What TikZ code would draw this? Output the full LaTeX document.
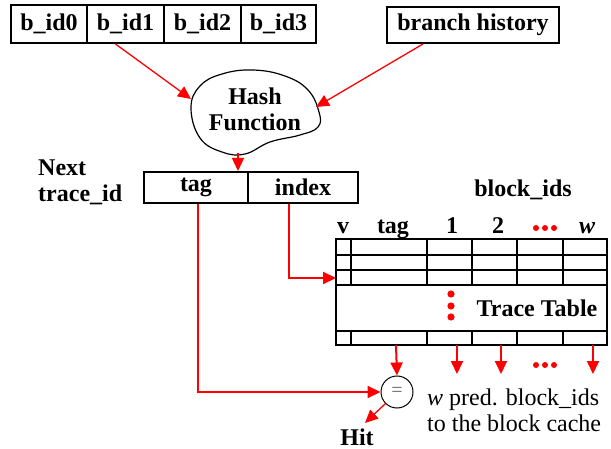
\documentclass[tikz,border=0pt]{standalone}
\usepackage{fontspec}
\setmainfont{Liberation Serif}
\usetikzlibrary{arrows.meta}
\begin{document}
\begin{tikzpicture}[x=1pt,y=-1pt,
  txt/.style={font=\fontsize{24}{26}\selectfont, inner sep=0pt},
  lbl/.style={font=\fontsize{24}{26}\selectfont\bfseries, inner sep=0pt},
  field/.style={draw, line width=2pt, lbl, anchor=center},
  tip/.style={-{Triangle[length=13pt,width=12pt]}},
  redarrow/.style={draw=red, line width=1.3pt, tip},
  redline/.style={draw=red, line width=2pt},
  grid/.style={line width=2pt},
  reddot/.style={fill=red, draw=none},
  colhead/.style={lbl, anchor=base}
]
\useasboundingbox (0,0) rectangle (611,449);

% input fields
\node[field, minimum width=76, minimum height=38] (b0) at (49,24) {b\_id0};
\node[field, minimum width=77, minimum height=38] (b1) at (125.5,24) {b\_id1};
\node[field, minimum width=77, minimum height=38] (b2) at (202.5,24) {b\_id2};
\node[field, minimum width=75, minimum height=38] (b3) at (278.5,24) {b\_id3};
\node[field, minimum width=172, minimum height=36] (bh) at (473,25) {branch history};

% hash function blob
\draw[line width=1.2pt] plot[smooth cycle, tension=0.7] coordinates {
  (191,108) (200,86) (222,74) (253,70) (285,76) (308,90) (319,112)
  (318,127) (300,135) (270,142) (245,154) (222,152) (200,138)};
\node[lbl, align=center] (hash) at (255,109) {Hash\\Function};
\coordinate (hin1) at (191,99);
\coordinate (hin2) at (316,107);
\coordinate (hout) at (238,153);

\draw[redarrow] ([xshift=-10pt]b1.south) -- (hin1);
\draw[redarrow] ([xshift=-50pt]bh.south) -- (hin2);

% next trace id
\node[lbl, align=left, anchor=west] (next) at (38,182) {Next\\trace\_id};
\node[field, minimum width=104, minimum height=31] (tag) at (196,187.5) {tag};
\node[field, minimum width=110, minimum height=31] (index) at (303,187.5) {index};
\draw[redarrow] (hout) -- (hout |- tag.north);

% trace table
\node[lbl] (bids) at (523,190) {block\_ids};
\node[colhead] (hv) at (343,234) {v};
\node[colhead] (htag) at (393,234) {tag};
\node[colhead] (h1) at (452,234) {1};
\node[colhead] (h2) at (498,234) {2};
\node[colhead] (hw) at (587,234) {\itshape w};
\foreach \x in {536,545,554} \fill[reddot] (\x,228) circle (3);

\node[draw, grid, minimum width=271, minimum height=106, inner sep=0pt] (tt) at (471.5,292) {};
\foreach \y in {255,270,285,331} \draw[grid] (336,\y) -- (607,\y);
\foreach \x in {351,427,472,517,563} {
  \draw[grid] (\x,239) -- (\x,285);
  \draw[grid] (\x,331) -- (\x,345);
}
\foreach \y in {294,306,317} \fill[reddot] (451,\y) circle (3.6);
\node[lbl] (ttl) at (537,308) {Trace Table};
\coordinate (row3) at (336,278);
\draw[redline, tip] ([xshift=-14pt]index.south) |- (row3);

% comparator
\node[draw, circle, line width=1pt, minimum size=32, inner sep=0pt,
      font=\fontsize{20}{20}\selectfont, text=black!60] (eq) at (397,392) {=};
\draw[redline, tip] ([xshift=2pt]tag.south) |- (eq.west);
\coordinate (c0) at (396,345);
\draw[redline, tip] (c0) -- (eq.north);

\coordinate (c1) at (457,345);
\coordinate (c2) at (501,345);
\coordinate (cw) at (593,345);
\coordinate (d1) at (457,374);
\coordinate (d2) at (501,374);
\coordinate (dw) at (593,374);
\draw[redline, tip] (c1) -- (d1);
\draw[redline, tip] (c2) -- (d2);
\draw[redline, tip] (cw) -- (dw);
\foreach \x in {536,545,554} \fill[reddot] (\x,365) circle (3);

\node[txt, align=left, anchor=west] (pred) at (427,410) {\textit{w} pred. block\_ids\\to the block cache};

\coordinate (hitc) at (365,423);
\draw[redarrow] (eq.225) -- (hitc);
\node[lbl, anchor=base] (hit) at (357,445) {Hit};
\end{tikzpicture}
\end{document}
